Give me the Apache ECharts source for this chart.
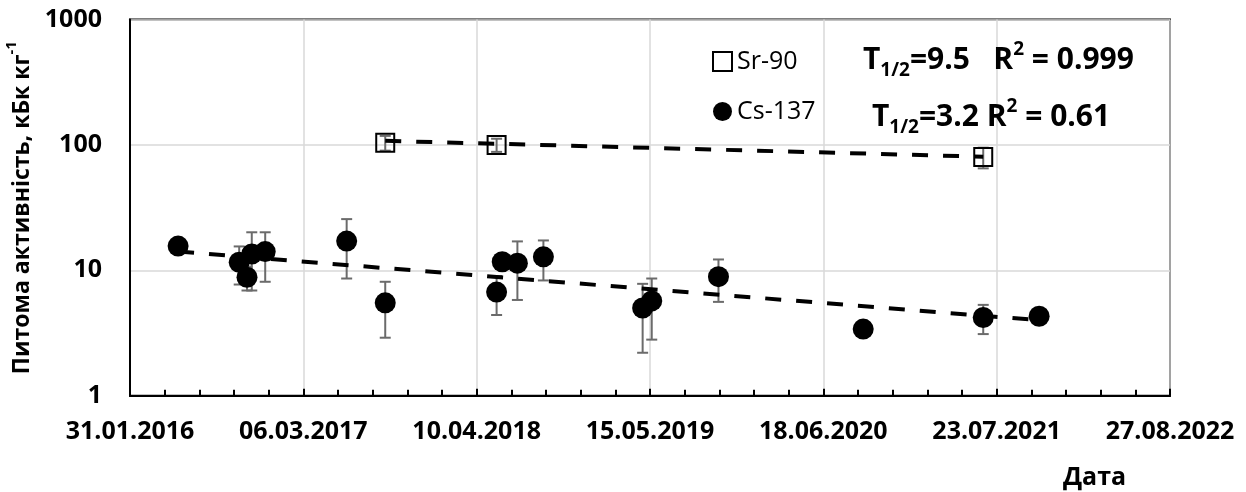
<!DOCTYPE html>
<html><head><meta charset="utf-8">
<script src="https://cdn.jsdelivr.net/npm/echarts@6/dist/echarts.min.js"></script>
<style>html,body{margin:0;padding:0;background:#fff}#c{width:1246px;height:492px}</style>
</head><body><div id="c"></div>
<script>
// ---- data ----
const xTickLabels = ['31.01.2016','06.03.2017','10.04.2018','15.05.2019','18.06.2020','23.07.2021','27.08.2022'];
const yTickValues = [1, 10, 100, 1000];

const csDates  = ['2016-05-21','2016-10-09','2016-10-27','2016-11-07','2016-12-08','2017-06-14','2017-09-11',
                  '2018-05-26','2018-06-08','2018-07-13','2018-09-11','2019-04-28','2019-05-19','2019-10-20',
                  '2020-09-18','2021-06-22','2021-10-29'];
const csValues = [15.6, 11.6, 8.8, 13.5, 14.1, 17.1, 5.5, 6.7, 11.7, 11.4, 12.8, 5.0, 5.7, 8.9, 3.4, 4.2, 4.3];
const csErrors = [0, 3.9, 1.9, 6.6, 6.0, 8.5, 2.6, 2.3, 0, 5.6, 4.5, 2.8, 2.9, 3.3, 0, 1.1, 0];

const srDates  = ['2017-09-11','2018-05-26','2021-06-22'];
const srValues = [104, 100, 80];
const srErrors = [14, 12, 15];

const srTrendDates  = ['2017-09-11','2021-06-22'];
const srTrendValues = [107.8, 80.5];
const csTrendDates  = ['2016-05-21','2021-10-29'];
const csTrendValues = [14.1, 4.0];

// ---- helpers ----
const EXCEL0 = Date.UTC(1899, 11, 30);
function serialISO(s){ const [y,m,d] = s.split('-').map(Number); return (Date.UTC(y,m-1,d)-EXCEL0)/86400000; }
function serialDMY(s){ const [d,m,y] = s.split('.').map(Number); return (Date.UTC(y,m-1,d)-EXCEL0)/86400000; }
function fmt(serial){
  const dt = new Date(EXCEL0 + Math.round(serial)*86400000);
  const p = n => String(n).padStart(2,'0');
  return p(dt.getUTCDate())+'.'+p(dt.getUTCMonth()+1)+'.'+dt.getUTCFullYear();
}
const xMin = serialDMY(xTickLabels[0]);
const xMax = serialDMY(xTickLabels[xTickLabels.length-1]);
const xStep = serialDMY(xTickLabels[1]) - xMin;

const csPts = csDates.map((d,i)=>[serialISO(d), csValues[i], csErrors[i]]);
const srPts = srDates.map((d,i)=>[serialISO(d), srValues[i], srErrors[i]]);
const srTrend = srTrendDates.map((d,i)=>[serialISO(d), srTrendValues[i]]);
const csTrend = csTrendDates.map((d,i)=>[serialISO(d), csTrendValues[i]]);

const FONT = 'Open Sans';

function errRender(params, api){
  const x = api.value(0), v = api.value(1), e = api.value(2);
  if (!e) return;
  const top = api.coord([x, v+e]);
  const bot = api.coord([x, v-e]);
  const hw = 5.5;
  const st = {stroke:'#6b6b6b', lineWidth:2};
  return {type:'group', children:[
    {type:'line', shape:{x1:top[0],y1:top[1],x2:bot[0],y2:bot[1]}, style:st},
    {type:'line', shape:{x1:top[0]-hw,y1:top[1],x2:top[0]+hw,y2:top[1]}, style:st},
    {type:'line', shape:{x1:bot[0]-hw,y1:bot[1],x2:bot[0]+hw,y2:bot[1]}, style:st}
  ]};
}

const chart = echarts.init(document.getElementById('c'), null, {renderer:'canvas'});
const annoRich = {
  t:{fontFamily:FONT, fontWeight:'bold', fontSize:30, lineHeight:40, verticalAlign:'middle', fill:'#000', color:'#000'},
  s:{fontFamily:FONT, fontWeight:'bold', fontSize:19, lineHeight:18, verticalAlign:'bottom', fill:'#000', color:'#000'},
  p:{fontFamily:FONT, fontWeight:'bold', fontSize:19, lineHeight:26, verticalAlign:'top', fill:'#000', color:'#000'}
};
chart.setOption({
  animation:false,
  backgroundColor:'#fff',
  grid:{left:130, right:76, top:19.5, bottom:96.3, show:true, borderColor:'#000', borderWidth:2,
        containLabel:false, outerBoundsMode:'none'},
  legend:{
    orient:'vertical', left:707, top:44, itemWidth:19, itemHeight:19, itemGap:25,
    textStyle:{fontFamily:FONT, fontSize:25, color:'#000', lineHeight:25},
    data:[
      {name:'Sr-90', icon:'rect', itemStyle:{color:'#fff', borderColor:'#000', borderWidth:2}},
      {name:'Cs-137', icon:'circle', itemStyle:{color:'#000'}}
    ]
  },
  xAxis:{
    type:'value', min:xMin, max:xMax, interval:xStep,
    axisLine:{show:true, lineStyle:{color:'#000', width:2}},
    axisTick:{show:true, inside:true, length:7, lineStyle:{color:'#000', width:2}},
    minorTick:{show:true, splitNumber:5, length:6, lineStyle:{color:'#000', width:2}},
    splitLine:{show:true, lineStyle:{color:'#d9d9d9', width:1.5}},
    axisLabel:{formatter:v=>fmt(v), fontFamily:FONT, fontWeight:'bold', fontSize:25, color:'#000', margin:24}
  },
  yAxis:{
    type:'log', logBase:10, min:yTickValues[0], max:yTickValues[yTickValues.length-1],
    axisLine:{show:true, lineStyle:{color:'#000', width:2}},
    axisTick:{show:false},
    splitLine:{show:true, lineStyle:{color:'#d9d9d9', width:1.5}},
    axisLabel:{formatter:v=>String(Math.round(v)), fontFamily:FONT, fontWeight:'bold', fontSize:25, color:'#000', margin:28},
    name:'{a|Питома активність, кБк кг}{b|-1}',
    nameLocation:'middle', nameGap:93,
    nameTextStyle:{
      rich:{
        a:{fontFamily:FONT, fontWeight:'bold', fontSize:23, lineHeight:30, verticalAlign:'bottom', color:'#000'},
        b:{fontFamily:FONT, fontWeight:'bold', fontSize:15, lineHeight:22, verticalAlign:'top', color:'#000'}
      }
    }
  },
  graphic:[
    {type:'text', left:863, top:40, z:100, style:{text:'{t|T}{s|1/2}{t|=9.5   R}{p|2}{t| = 0.999}', rich:annoRich}},
    {type:'text', left:872, top:97, z:100, style:{text:'{t|T}{s|1/2}{t|=3.2 R}{p|2}{t| = 0.61}', rich:annoRich}},
    {type:'text', left:1063, top:465, z:100, style:{text:'Дата', fontFamily:FONT, fontWeight:'bold', fontSize:25, fill:'#000'}}
  ],
  series:[
    {type:'custom', name:'errCs', data:csPts, renderItem:errRender, z:2, silent:true},
    {type:'custom', name:'errSr', data:srPts, renderItem:errRender, z:2, silent:true},
    {type:'scatter', name:'Cs-137', data:csPts.map(p=>[p[0],p[1]]), symbol:'circle', symbolSize:21,
     itemStyle:{color:'#000', opacity:1}, z:3},
    {type:'scatter', name:'Sr-90', data:srPts.map(p=>[p[0],p[1]]), symbol:'rect', symbolSize:18,
     itemStyle:{color:'rgba(255,255,255,0)', borderColor:'#000', borderWidth:2, opacity:1}, z:3},
    {type:'line', name:'trendSr', data:srTrend, showSymbol:false, symbol:'none', z:4,
     lineStyle:{color:'#000', width:4, type:[16,15], cap:'butt'}},
    {type:'line', name:'trendCs', data:csTrend, showSymbol:false, symbol:'none', z:4,
     lineStyle:{color:'#000', width:4, type:[16,15], cap:'butt'}}
  ]
});
</script></body></html>
